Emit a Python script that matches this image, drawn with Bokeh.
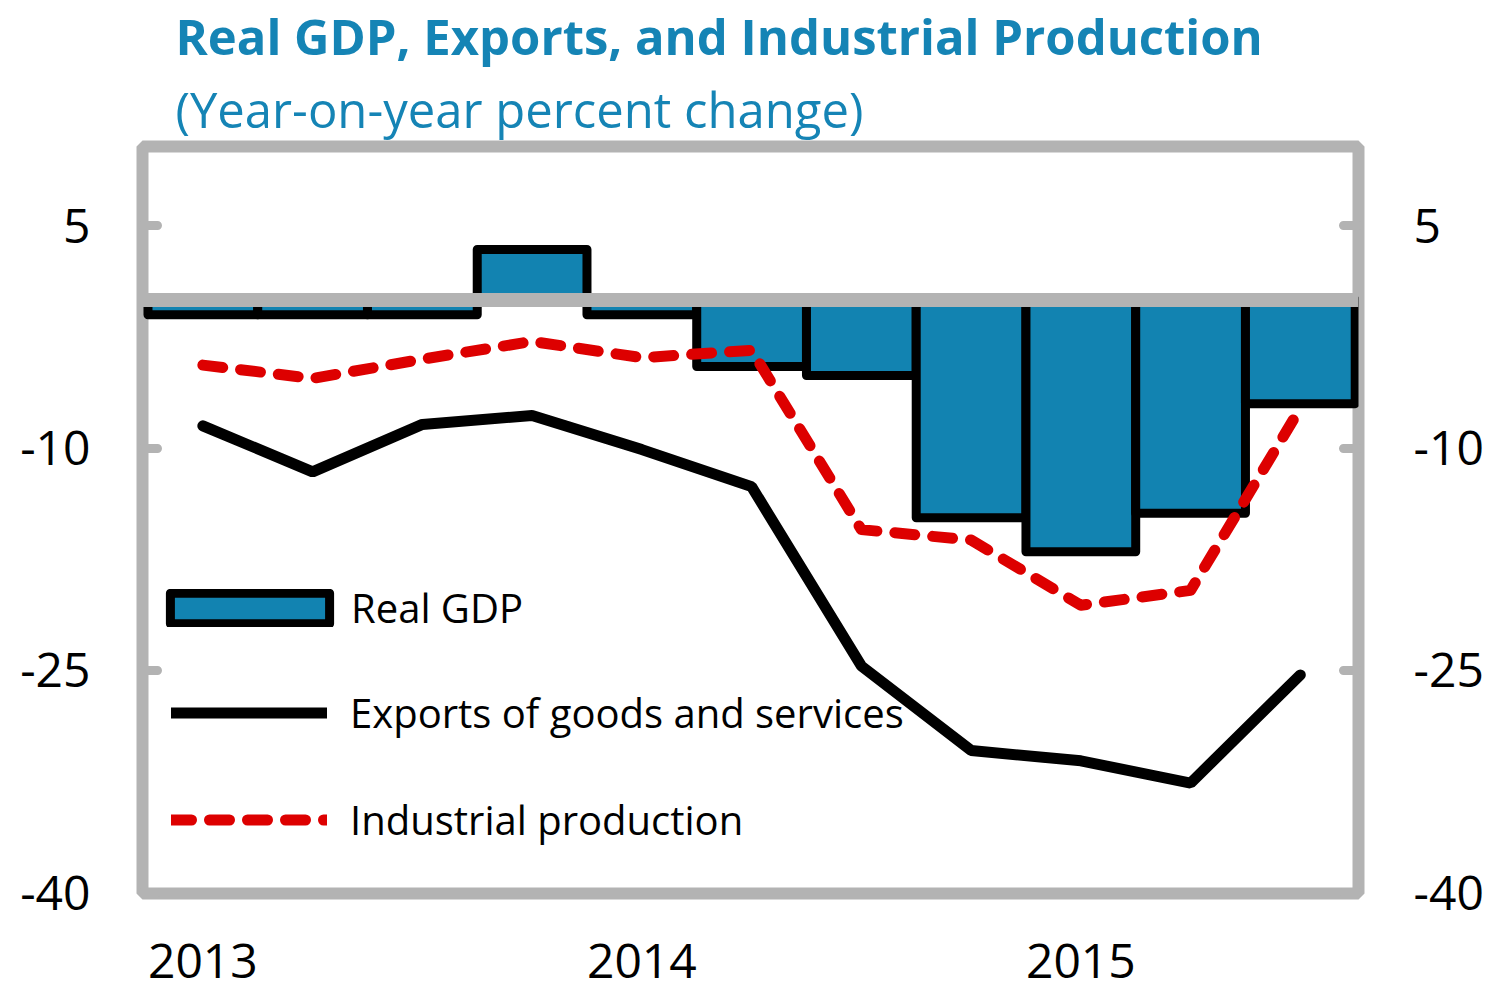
import numpy as np
from bokeh.plotting import figure
from bokeh.models import (ColumnDataSource, Range1d, LinearAxis, FixedTicker, Span,
                          Title, Legend, LegendItem)
from bokeh.embed import file_html
from bokeh.resources import INLINE

# ---------------- data ----------------
quarters = ["2013Q1", "2013Q2", "2013Q3", "2013Q4", "2014Q1", "2014Q2",
            "2014Q3", "2014Q4", "2015Q1", "2015Q2", "2015Q3"]
real_gdp = [-1.0, -1.0, -1.0, 3.4, -1.0, -4.5, -5.1, -14.7, -17.0, -14.4, -7.0]
exports = [-8.5, -11.6, -8.4, -7.8, -10.1, -12.6, -24.7, -30.4, -31.1, -32.6, -25.3]
industrial = [-4.4, -5.3, -4.0, -2.8, -3.9, -3.4, -15.5, -16.2, -20.6, -19.6, -7.3]
year_labels = ["2013", "2014", "2015"]
year_quarters = ["2013Q1", "2014Q1", "2015Q1"]
y_ticks = [5, -10, -25, -40]
y_tick_labels = ["5", "-10", "-25", "-40"]
title_text = "Real GDP, Exports, and Industrial Production"
subtitle_text = "(Year-on-year percent change)"
legend_labels = ["Real GDP", "Exports of goods and services", "Industrial production"]

# ---------------- styles ----------------
FONT = "Open Sans"
BLUE_TITLE = "#1584b5"
BAR_BLUE = "#1283b1"
RED = "#dd0000"
GRAY = "#b3b3b3"

x = np.arange(1, len(quarters) + 1)
src = ColumnDataSource(dict(x=x, gdp=real_gdp, exports=exports, ip=industrial))

p = figure(width=1493, height=990,
           x_range=Range1d(0.45, 11.53), y_range=Range1d(-40.05, 10.35),
           output_backend="svg", toolbar_location=None,
           y_axis_location="left",
           min_border_left=142, min_border_right=135,
           min_border_top=141, min_border_bottom=97)
p.grid.visible = False
p.background_fill_color = "white"
p.border_fill_color = "white"
p.outline_line_color = GRAY
p.outline_line_width = 12

def style_axis(ax, standoff):
    ax.ticker = FixedTicker(ticks=y_ticks)
    ax.major_label_overrides = dict(zip(y_ticks, y_tick_labels))
    ax.axis_line_color = None
    ax.major_tick_in = 15
    ax.major_tick_out = 0
    ax.major_tick_line_color = GRAY
    ax.major_tick_line_width = 9
    ax.major_tick_line_cap = "round"
    ax.minor_tick_line_color = None
    ax.major_label_text_font = FONT
    ax.major_label_text_font_size = "48px"
    ax.major_label_text_color = "black"
    ax.major_label_standoff = standoff

style_axis(p.yaxis[0], 52)
right_axis = LinearAxis()
style_axis(right_axis, 55)
p.add_layout(right_axis, "right")

# x axis: year labels at the first quarter of each year
xax = p.xaxis[0]
year_pos = [quarters.index(q) + 1 for q in year_quarters]
xax.ticker = FixedTicker(ticks=year_pos)
xax.major_label_overrides = dict(zip(year_pos, year_labels))
xax.axis_line_color = None
xax.major_tick_line_color = None
xax.minor_tick_line_color = None
xax.major_tick_in = 0
xax.major_tick_out = 0
xax.major_label_text_font = FONT
xax.major_label_text_font_size = "48px"
xax.major_label_text_color = "black"
xax.major_label_text_line_height = 1.0
xax.major_label_standoff = 50

bars = p.vbar(x="x", top="gdp", bottom=0, width=1.0, source=src,
              fill_color=BAR_BLUE, line_color="black", line_width=9,
              line_join="round")
p.add_layout(Span(location=0, dimension="width", line_color=GRAY, line_width=14))
ipr = p.line("x", "ip", source=src, line_color=RED, line_width=11,
             line_dash="20 18", line_cap="round", line_join="round")
exl = p.line("x", "exports", source=src, line_color="black", line_width=11,
             line_cap="round")

# legends (one per row so each row sits where the reference has it)
rows = [
    (legend_labels[0], bars, 8, 258, 199, 38, 2),
    (legend_labels[1], exl, 29, 153, 156, 31, 23),
    (legend_labels[2], ipr, 29, 46, 156, 31, 23),
]
for lab, rend, xpos, ypos, gw, gh, so in rows:
    leg = Legend(items=[LegendItem(label=lab, renderers=[rend])],
                 location=(xpos, ypos), padding=0, margin=0, spacing=0,
                 border_line_color=None, background_fill_alpha=0,
                 glyph_width=gw, glyph_height=gh, label_height=31,
                 label_standoff=so, label_text_font=FONT,
                 label_text_font_size="40px", label_text_color="black")
    p.add_layout(leg, "center")

# subtitle (closest to frame) then title
p.add_layout(Title(text=subtitle_text, align="left", offset=33, standoff=10,
                   text_font=FONT, text_font_size="49px", text_font_style="normal",
                   text_color=BLUE_TITLE), "above")
p.add_layout(Title(text=title_text, align="left", offset=33, standoff=0,
                   text_font=FONT, text_font_size="49px", text_font_style="bold",
                   text_color=BLUE_TITLE), "above")

open("out.html", "w").write(file_html(p, INLINE))
